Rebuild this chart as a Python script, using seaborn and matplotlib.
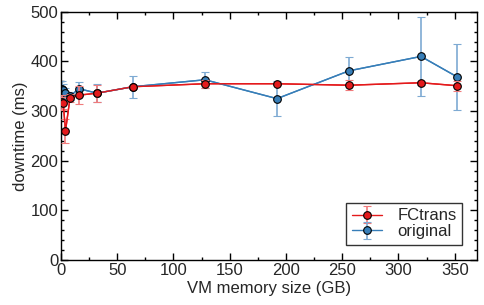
import numpy as np
import pandas as pd
import matplotlib
matplotlib.use("Agg")
import matplotlib.pyplot as plt
from matplotlib.ticker import MultipleLocator
import seaborn as sns

# VM memory sizes (GB) and measured downtime (ms)
mem_gb = [1, 2, 4, 8, 16, 32, 64, 128, 192, 256, 320, 352]
fctrans = [318, 316, 260, 326, 332, 336, 349, 355, 355, 352, 357, 351]
fctrans_err = [15, 12, 24, 8, 18, 17, 3, 8, 3, 10, 4, 10]
original = [345, 342, 336, 330, 345, 336, 349, 363, 325, 381, 410, 369]
original_err = [15, 12, 10, 8, 14, 18, 22, 16, 35, 28, 79, 66]

red = "#e41a1c"
blue = "#377eb8"

sns.set_style("ticks")
plt.rcParams['font.family'] = ['Liberation Sans', 'DejaVu Sans']
plt.rcParams['font.size'] = 12

df = pd.DataFrame({
    "mem": mem_gb * 2,
    "downtime": fctrans + original,
    "series": ["FCtrans"] * len(mem_gb) + ["original"] * len(mem_gb),
})

fig = plt.figure(figsize=(4.84, 3.05), dpi=100)
ax = fig.add_axes([0.126, 0.1475, 0.86, 0.814])

sns.lineplot(data=df, x="mem", y="downtime", hue="series",
             palette={"FCtrans": red, "original": blue}, lw=1,
             legend=False, ax=ax, zorder=1)
h2 = ax.errorbar(mem_gb, original, yerr=original_err, fmt="o-", color=blue,
                 ecolor="#7eaad3", elinewidth=1.2, capsize=3, capthick=1.2,
                 markersize=5.5, markeredgecolor="black", markeredgewidth=0.8,
                 lw=1, label="original", zorder=2)
h1 = ax.errorbar(mem_gb, fctrans, yerr=fctrans_err, fmt="o-", color=red,
                 ecolor="#f07a7b", elinewidth=1.2, capsize=3, capthick=1.2,
                 markersize=5.5, markeredgecolor="black", markeredgewidth=0.8,
                 lw=1, label="FCtrans", zorder=3)

ax.set_xlim(0, 370)
ax.set_ylim(0, 500)
ax.xaxis.set_major_locator(MultipleLocator(50))
ax.xaxis.set_minor_locator(MultipleLocator(25))
ax.yaxis.set_major_locator(MultipleLocator(100))
ax.yaxis.set_minor_locator(MultipleLocator(20))
ax.tick_params(which="both", direction="in", top=True, right=True,
               color="black", width=1, labelsize=12, pad=2)
ax.tick_params(which="major", length=5)
ax.tick_params(which="minor", length=2.5)
for s in ax.spines.values():
    s.set_color("black")
    s.set_linewidth(1)

ax.set_xlabel("VM memory size (GB)", fontsize=12, labelpad=2)
ax.set_ylabel("downtime (ms)", fontsize=12, labelpad=2)

leg = ax.legend(handles=[h1, h2], labels=["FCtrans", "original"],
                loc="lower right", fontsize=12, frameon=True, fancybox=False,
                handlelength=1.8, borderpad=0.35, labelspacing=0.05,
                borderaxespad=0.9, handletextpad=0.9)
leg.get_frame().set_edgecolor("black")
leg.get_frame().set_linewidth(1)

plt.savefig("out.png", dpi=100)
